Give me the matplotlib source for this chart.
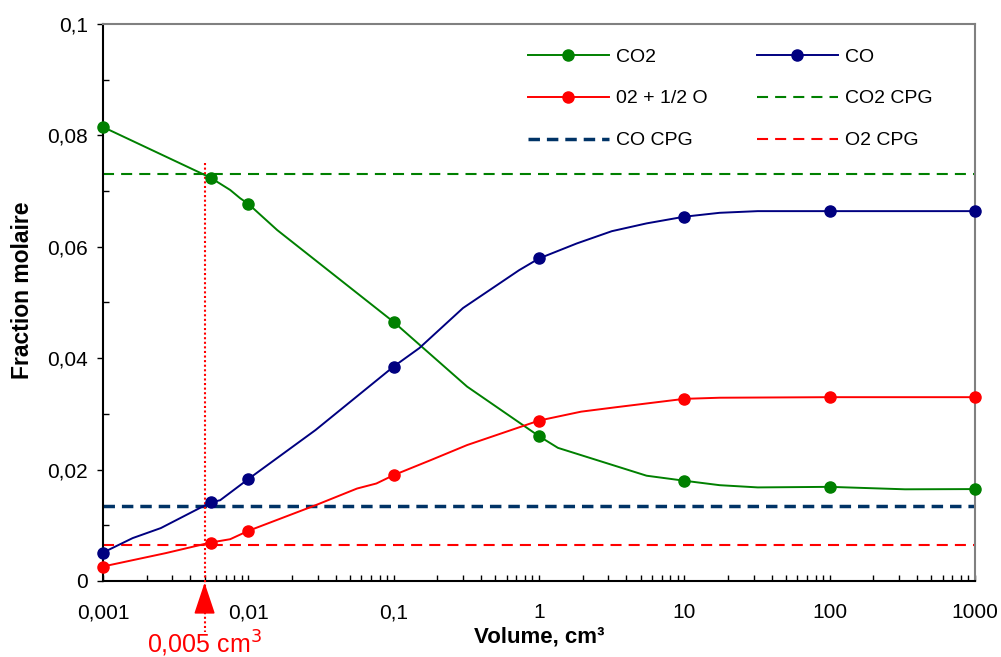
"""Molar fraction vs volume chart (log x axis)."""

import matplotlib

matplotlib.use("Agg")
import matplotlib.pyplot as plt
import numpy as np
from matplotlib.ticker import FixedLocator, FuncFormatter, LogLocator, NullFormatter

plt.rcParams["font.family"] = ["Liberation Sans", "DejaVu Sans"]

# points carrying a marker
marker_vol = [0.001, 0.0055, 0.01, 0.1, 1, 10, 100, 1000]

vol_co2 = [0.001, 0.0055, 0.0075, 0.0088, 0.01, 0.0158, 0.1, 0.32, 1, 1.35,
           5.5, 10, 17.5, 32, 100, 330, 1000]
co2 = [0.0815, 0.0724, 0.0702, 0.0687, 0.0677, 0.0630, 0.0465, 0.0349, 0.0260,
       0.0239, 0.0189, 0.0180, 0.0172, 0.0168, 0.0169, 0.01646, 0.0165]

vol_co = [0.001, 0.0016, 0.0025, 0.0055, 0.0064, 0.01, 0.029, 0.1, 0.15, 0.30,
          0.73, 1, 1.82, 3.17, 5.5, 10, 17.5, 32, 100, 1000]
co = [0.0051, 0.0077, 0.0095, 0.0141, 0.0145, 0.0183, 0.0271, 0.0385, 0.0418,
      0.0490, 0.0558, 0.0579, 0.0606, 0.0628, 0.0642, 0.0654, 0.0661, 0.0664,
      0.0664, 0.0664]

vol_o2 = [0.001, 0.0027, 0.0055, 0.0075, 0.01, 0.029, 0.056, 0.076, 0.1, 0.18,
          0.32, 1, 1.95, 3.4, 10, 17.5, 100, 1000]
o2 = [0.0026, 0.0050, 0.0069, 0.0075, 0.0090, 0.0136, 0.0166, 0.0175, 0.0190,
      0.0217, 0.0244, 0.0288, 0.0304, 0.0312, 0.0327, 0.0329, 0.0330, 0.0330]

# equilibrium (CPG) levels
co2_cpg = 0.0731
co_cpg = 0.0134
o2_cpg = 0.0065

x_ticks = [0.001, 0.01, 0.1, 1, 10, 100, 1000]
x_labels = ["0,001", "0,01", "0,1", "1", "10", "100", "1000"]
y_ticks = [0, 0.02, 0.04, 0.06, 0.08, 0.1]
y_labels = ["0", "0,02", "0,04", "0,06", "0,08", "0,1"]

mark_vol = 0.005
mark_label = "0,005 cm$^3$"

GREEN = "#008000"
NAVY = "#000080"
RED = "#FF0000"
DARK_BLUE = "#003366"


def marker_idx(vols):
    return [i for i, v in enumerate(vols) if v in marker_vol]


fig = plt.figure(figsize=(10.01, 6.57), dpi=100)
ax = fig.add_axes([0.1029, 0.1157, 0.8711, 0.8478])
ax.set_xscale("log")
ax.set_xlim(0.001, 1000)
ax.set_ylim(0, 0.1)

style = dict(lw=1.4, marker="o", ms=8)
h_co2, = ax.plot(vol_co2, co2, color=GREEN, markevery=marker_idx(vol_co2),
                 label="CO2", clip_on=False, zorder=4, **style)
h_co, = ax.plot(vol_co, co, color=NAVY, markevery=marker_idx(vol_co),
                label="CO", clip_on=False, zorder=4, **style)
h_o2, = ax.plot(vol_o2, o2, color=RED, markevery=marker_idx(vol_o2),
                label="02 + 1/2 O", clip_on=False, zorder=4, **style)

h_co2c = ax.axhline(co2_cpg, color=GREEN, lw=1.5, dashes=(5.3, 3.4), label="CO2 CPG")
h_coc = ax.axhline(co_cpg, color=DARK_BLUE, lw=2.5, dashes=(3.3, 2.0), label="CO CPG")
h_o2c = ax.axhline(o2_cpg, color=RED, lw=1.5, dashes=(5.3, 3.4), label="O2 CPG")

# marker for the 0,005 cm3 volume
ax.plot([mark_vol, mark_vol], [0.075, -0.0092], color=RED, lw=1.5,
        ls=(0, (1, 1.2)), clip_on=False, zorder=3)
ax.annotate("", xy=(mark_vol, -0.0003), xytext=(mark_vol, -0.0040),
            arrowprops=dict(arrowstyle="-|>,head_length=0.9,head_width=0.3",
                            color=RED, lw=1.2, mutation_scale=22,
                            shrinkA=0, shrinkB=0),
            annotation_clip=False)
ax.text(mark_vol, -0.0113, mark_label, color=RED, fontsize=18,
        ha="center", va="center")

ax.xaxis.set_major_locator(FixedLocator(x_ticks))
ax.xaxis.set_major_formatter(FuncFormatter(lambda v, p: x_labels[x_ticks.index(v)] if v in x_ticks else ""))
ax.xaxis.set_minor_locator(LogLocator(base=10, subs=np.arange(2, 10), numticks=20))
ax.xaxis.set_minor_formatter(NullFormatter())
ax.set_yticks(y_ticks)
ax.set_yticklabels(y_labels)
ax.set_yticks(np.arange(0.01, 0.1, 0.02), minor=True)

ax.tick_params(axis="y", which="major", direction="out", length=4, width=1,
               labelsize=15, pad=7)
ax.tick_params(axis="y", which="minor", direction="in", length=4, width=1)
ax.tick_params(axis="x", which="both", direction="in", length=4.5, width=1)
ax.tick_params(axis="x", which="major", labelsize=15, pad=16)

for side in ("left", "bottom"):
    ax.spines[side].set_color("black")
    ax.spines[side].set_linewidth(1.5)
for side in ("top", "right"):
    ax.spines[side].set_color("#808080")
    ax.spines[side].set_linewidth(1.5)

ax.set_xlabel("Volume, cm³", fontsize=16, fontweight="bold")
ax.xaxis.set_label_coords(0.5, -0.0826)
ax.set_ylabel("Fraction molaire", fontsize=16.5, fontweight="bold")
ax.yaxis.set_label_coords(-0.079, 0.522)

ax.legend(handles=[h_co2, h_o2, h_coc, h_co, h_co2c, h_o2c], ncol=2,
          loc="upper left", bbox_to_anchor=(0.487, 0.957), frameon=False,
          fontsize=14, handlelength=4.2, handletextpad=0.36,
          columnspacing=2.5, labelspacing=1.25, borderpad=0, borderaxespad=0)

fig.savefig("out.png", dpi=100)
